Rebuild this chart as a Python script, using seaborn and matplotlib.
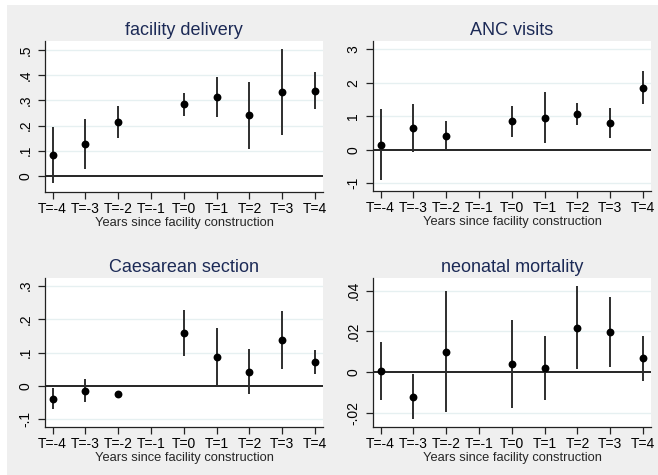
import numpy as np
import pandas as pd
import matplotlib
matplotlib.use("Agg")
import matplotlib.pyplot as plt
import seaborn as sns
from matplotlib.patches import Rectangle

# ---- data ----
periods = [-4, -3, -2, -1, 0, 1, 2, 3, 4]
tick_labels = ["T=-4", "T=-3", "T=-2", "T=-1", "T=0", "T=1", "T=2", "T=3", "T=4"]

fac_est = [0.082, 0.126, 0.214, np.nan, 0.284, 0.314, 0.240, 0.332, 0.338]
fac_lo = [-0.030, 0.027, 0.149, np.nan, 0.239, 0.235, 0.105, 0.162, 0.264]
fac_hi = [0.195, 0.225, 0.279, np.nan, 0.328, 0.393, 0.375, 0.505, 0.414]

anc_est = [0.15, 0.65, 0.42, np.nan, 0.85, 0.95, 1.06, 0.79, 1.85]
anc_lo = [-0.91, -0.06, 0.00, np.nan, 0.38, 0.21, 0.73, 0.34, 1.35]
anc_hi = [1.21, 1.35, 0.86, np.nan, 1.31, 1.71, 1.40, 1.24, 2.34]

cs_est = [-0.039, -0.014, -0.024, np.nan, 0.159, 0.086, 0.043, 0.137, 0.072]
cs_lo = [-0.070, -0.049, -0.037, np.nan, 0.090, 0.000, -0.025, 0.050, 0.037]
cs_hi = [-0.007, 0.021, -0.014, np.nan, 0.227, 0.173, 0.109, 0.224, 0.108]

nm_est = [0.0005, -0.0122, 0.0099, np.nan, 0.0041, 0.0021, 0.0218, 0.0197, 0.0068]
nm_lo = [-0.0138, -0.0229, -0.0195, np.nan, -0.0177, -0.0135, 0.0013, 0.0026, -0.0044]
nm_hi = [0.0150, -0.0011, 0.0397, np.nan, 0.0257, 0.0177, 0.0424, 0.0369, 0.0179]

titles = ["facility delivery", "ANC visits", "Caesarean section", "neonatal mortality"]
ytick_vals = [
    [0, 0.1, 0.2, 0.3, 0.4, 0.5],
    [-1, 0, 1, 2, 3],
    [-0.1, 0, 0.1, 0.2, 0.3],
    [-0.02, 0, 0.02, 0.04],
]
ytick_text = [
    ["0", ".1", ".2", ".3", ".4", ".5"],
    ["-1", "0", "1", "2", "3"],
    ["-.1", "0", ".1", ".2", ".3"],
    ["-.02", "0", ".02", ".04"],
]
ylims = [(-0.065, 0.537), (-1.23, 3.24), (-0.123, 0.323), (-0.027, 0.0462)]
xlabel = "Years since facility construction"

series = [(fac_est, fac_lo, fac_hi), (anc_est, anc_lo, anc_hi),
          (cs_est, cs_lo, cs_hi), (nm_est, nm_lo, nm_hi)]

# ---- style ----
sns.set_theme(style="white")
plt.rcParams["font.family"] = ["Liberation Sans", "DejaVu Sans"]

BG = "#efefef"
TITLE_C = "#1c2a56"
GRID_C = "#e6f0f1"

fig = plt.figure(figsize=(6.58, 4.75), dpi=100, facecolor=BG)
W, H = 658.0, 475.0
# white margins at top/left
fig.patches.append(Rectangle((0, 1 - 5 / H), 1, 5 / H, transform=fig.transFigure,
                             facecolor="white", edgecolor="none", zorder=-10))
fig.patches.append(Rectangle((0, 0), 7 / W, 1, transform=fig.transFigure,
                             facecolor="white", edgecolor="none", zorder=-10))

boxes = [
    (45, 41, 323, 192),
    (373, 41, 651, 191),
    (45, 278, 323, 427),
    (373, 278, 651, 427),
]

for i, (est, lo, hi) in enumerate(series):
    x0, y0, x1, y1 = boxes[i]
    ax = fig.add_axes([x0 / W, 1 - y1 / H, (x1 - x0) / W, (y1 - y0) / H])
    ax.set_facecolor("white")
    df = pd.DataFrame({"T": periods, "est": est, "lo": lo, "hi": hi}).dropna()

    for v in ytick_vals[i]:
        if v != 0:
            ax.axhline(v, color=GRID_C, lw=1.0, zorder=0)
    ax.axhline(0, color="black", lw=1.2, zorder=1)

    ax.vlines(df["T"], df["lo"], df["hi"], color="#2e2e2e", lw=1.4, zorder=2)
    sns.scatterplot(data=df, x="T", y="est", ax=ax, color="black", s=32,
                    edgecolor="black", linewidth=0, zorder=3, legend=False)

    ax.set_xlim(-4.23, 4.24)
    ax.set_ylim(*ylims[i])
    ax.set_xticks(periods)
    ax.set_xticklabels(tick_labels, fontsize=10)
    ax.set_yticks(ytick_vals[i])
    ax.set_yticklabels(ytick_text[i], fontsize=10, rotation=90, va="center")
    ax.set_xlabel(xlabel, fontsize=9.3, labelpad=1)
    ax.set_ylabel("")
    ax.set_title(titles[i], fontsize=13, color=TITLE_C, pad=4)

    for s in ["top", "right"]:
        ax.spines[s].set_visible(False)
    for s in ["left", "bottom"]:
        ax.spines[s].set_color("#222222")
        ax.spines[s].set_linewidth(0.9)
    ax.tick_params(axis="x", which="major", direction="out", length=5,
                   width=0.9, color="#222222", labelcolor="black", pad=2,
                   bottom=True)
    ax.tick_params(axis="y", which="major", direction="out", length=5,
                   width=0.9, color="#222222", labelcolor="black", pad=4,
                   left=True)
    ax.grid(False)

fig.savefig("out.png", dpi=100, facecolor=BG)
